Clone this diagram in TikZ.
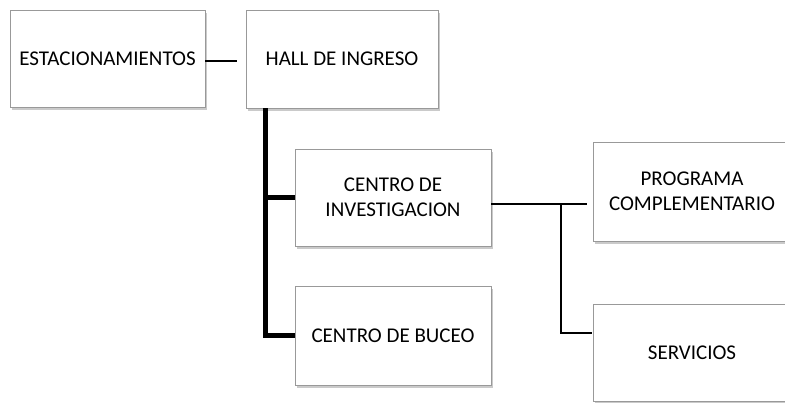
\documentclass[tikz,border=0pt]{standalone}
\usepackage{fontspec}
\setmainfont{Carlito}
\usetikzlibrary{positioning,calc,shadows}

\begin{document}
\begin{tikzpicture}[x=1pt,y=-1pt,
    caja/.style={draw=black!40,line width=0.8pt,fill=white,align=center,
      font=\fontsize{21}{25}\selectfont,inner sep=0pt,
      drop shadow={shadow xshift=2pt,shadow yshift=-3pt,opacity=0.35,fill=black!60}},
    tronco/.style={line width=4.5pt},
    rama/.style={line width=1.6pt}]
    \useasboundingbox (0,0) rectangle (785,402);
    \node[caja,minimum width=195pt,minimum height=97pt] (est) at (107.5,58.5) {ESTACIONAMIENTOS};
    \node[caja,minimum width=192pt,minimum height=98pt] (hall) at (342,59) {HALL DE INGRESO};
    \node[caja,minimum width=196pt,minimum height=97pt] (inv) at (393,197.5) {CENTRO DE\\INVESTIGACION};
    \node[caja,minimum width=196pt,minimum height=99pt] (buceo) at (393,335.5) {CENTRO DE BUCEO};
    \node[caja,minimum width=198pt,minimum height=99pt] (prog) at (692,191.5) {PROGRAMA\\COMPLEMENTARIO};
    \node[caja,minimum width=198pt,minimum height=97pt] (serv) at (692,352.5) {SERVICIOS};
    % conexiones
    \draw[rama,shorten >=9pt] (est.east |- 0,61) -- (hall.west |- 0,61);
    \coordinate (tronco) at ($(hall.south west)+(20,0)$);
    \draw[tronco] (tronco) |- (buceo.west);
    \draw[tronco] (tronco |- inv.west) -- (inv.west);
    \coordinate (split) at (561,204);
    \coordinate (servjoin) at (561,333);
    \draw[rama,shorten >=6pt] (split -| inv.east) -- (split -| prog.west);
    \draw[rama,shorten >=1pt] (split) -- (servjoin) -- (servjoin -| serv.west);
\end{tikzpicture}
\end{document}
